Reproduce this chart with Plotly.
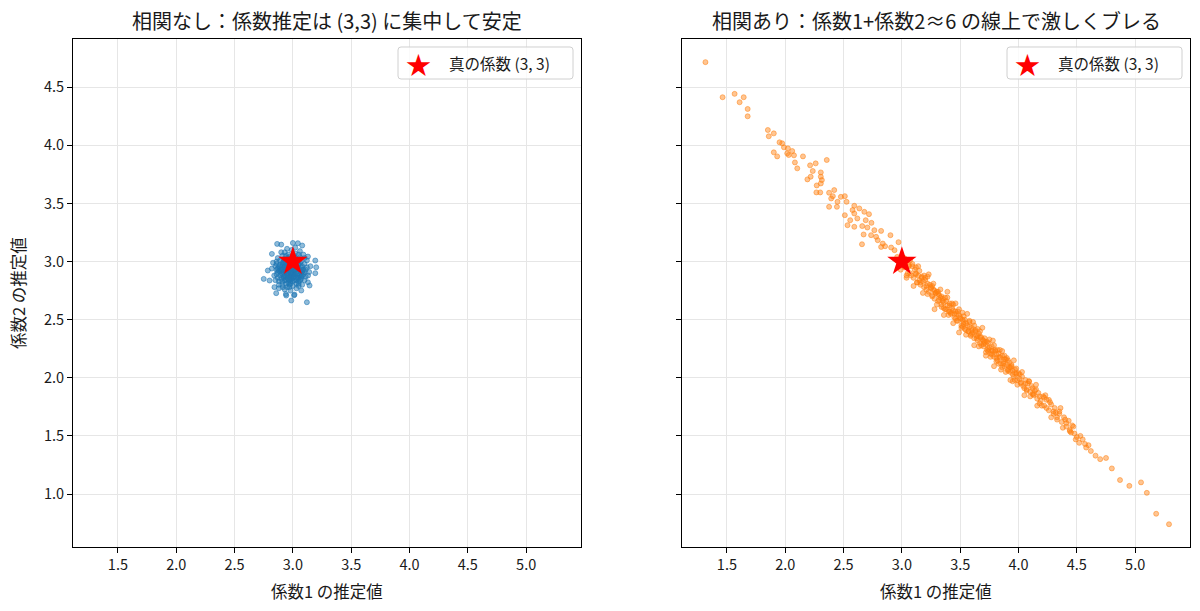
import re
import plotly.graph_objects as go

# ---------------- data ----------------
left_x = [2.865, 2.90, 3.00, 3.043, 3.08, 2.82, 3.129, 3.192, 3.20, 3.192, 2.785, 2.75, 2.80, 3.129, 3.143,
          2.842, 3.072, 2.857, 2.943, 3.014, 2.986, 3.12, 2.914,
          2.95, 2.98, 3.02, 2.93, 3.05, 2.97, 2.91, 3.08, 2.99, 3.03, 2.88, 2.94, 3.06, 2.90, 3.01, 2.96, 3.10,
          2.87, 3.04, 2.92, 2.99, 3.07, 2.95, 3.00, 2.89, 3.11, 2.93, 3.02, 2.86, 2.98, 3.05, 2.96, 3.09, 2.91,
          3.03, 2.94, 2.85, 3.13, 2.97, 3.01, 2.92, 3.06, 2.88, 3.00, 2.95, 3.08, 2.83, 3.04, 2.97, 2.90, 3.12,
          2.99, 2.93, 3.07, 2.96, 2.87, 3.02, 2.94, 3.10, 2.98, 2.91, 3.05, 2.89, 3.01, 2.84, 3.15, 2.95, 3.03,
          2.92, 3.06, 2.98, 2.86, 3.09, 2.93, 3.00, 3.04, 2.90, 2.97, 3.11, 2.88, 3.02, 2.94, 3.07, 2.96, 2.82,
          3.14, 2.99, 2.91, 3.05, 2.95, 3.01, 2.87, 3.08, 2.93, 3.03, 2.97, 2.89, 3.10, 2.98, 3.04, 2.92, 2.85,
          3.06, 2.96, 3.00, 2.94, 3.12, 2.90, 3.02, 2.99, 2.88, 3.07, 2.95, 3.03, 2.91, 2.97, 3.09, 3.01, 2.86,
          3.05, 2.93, 2.98,
          2.97, 3.01, 2.94, 3.04, 2.99, 2.92, 3.06, 2.96, 3.02, 2.90, 3.00, 2.95, 3.08, 2.93, 3.03, 2.98, 2.87,
          3.05, 2.99, 3.01, 2.94, 3.07, 2.96, 2.91, 3.04, 2.98, 3.00, 2.92, 3.06, 2.97, 3.02, 2.89, 3.10, 2.95,
          3.01, 2.93, 3.05, 2.99, 2.86, 3.03, 2.97, 2.94, 3.08, 3.00, 2.91, 3.04, 2.96, 3.02, 2.98, 2.88]
left_y = [3.152, 3.146, 3.16, 3.158, 3.138, 3.066, 3.043, 3.009, 2.951, 2.90, 2.923, 2.851, 2.837, 2.822, 2.794,
          2.78, 2.751, 2.728, 2.708, 2.716, 2.665, 2.65, 2.78,
          2.95, 2.90, 2.93, 2.88, 2.97, 3.02, 2.99, 2.91, 2.85, 2.81, 2.92, 3.05, 3.04, 2.85, 3.00, 2.82, 2.98,
          3.03, 2.88, 2.94, 2.97, 2.85, 2.78, 2.90, 2.97, 2.93, 3.08, 3.07, 2.89, 2.75, 2.79, 3.00, 3.06, 2.83,
          2.96, 2.91, 2.96, 2.88, 2.87, 2.84, 3.02, 2.92, 2.80, 3.04, 2.86, 2.80, 2.99, 3.01, 2.93, 2.90, 3.01,
          3.10, 2.76, 2.95, 3.06, 2.86, 2.89, 2.99, 2.84, 2.81, 3.05, 2.86, 2.93, 2.95, 2.88, 2.96, 3.11, 2.77,
          2.87, 3.09, 2.99, 3.00, 2.89, 2.96, 2.79, 2.93, 3.08, 2.84, 2.87, 2.83, 3.03, 2.72, 3.00, 2.90, 2.94,
          2.91, 2.88, 2.97, 2.83, 3.03, 2.92, 2.91, 2.96, 2.84, 2.99, 2.78, 3.01, 3.03, 2.94, 2.86, 2.91, 2.84,
          2.88, 2.97, 2.86, 2.81, 2.95, 2.95, 3.12, 2.92, 2.77, 2.90, 2.93, 2.84, 2.80, 3.04, 2.93, 2.71, 2.98,
          3.06, 2.99, 2.83,
          2.95, 2.89, 2.93, 2.95, 3.01, 2.86, 2.99, 2.88, 2.97, 2.92, 2.83, 2.97, 2.93, 3.01, 2.91, 2.96, 2.94,
          2.81, 2.89, 3.05, 2.84, 2.87, 2.92, 2.89, 3.00, 2.86, 2.96, 2.99, 2.84, 2.80, 2.93, 2.88, 2.91, 2.90,
          2.87, 2.95, 2.98, 2.94, 2.93, 2.86, 2.99, 2.87, 2.88, 3.02, 2.93, 2.90, 2.85, 2.99, 2.91, 2.96]

right_x = [1.316, 1.463, 1.566, 1.644, 1.609, 1.678, 1.678, 1.851, 1.902, 1.859, 1.951, 1.974, 1.989, 2.023,
           2.06, 2.017, 2.03, 2.075, 1.902, 1.931, 2.152, 2.083, 2.103, 2.213, 2.261, 2.356, 2.236, 2.305, 2.218,
           2.19, 2.305, 2.314, 2.305, 2.27, 2.267, 2.30, 2.376, 2.42, 2.408, 2.394, 2.376, 2.443, 2.477, 2.511,
           2.526, 2.448, 2.592, 2.635, 2.577, 2.511, 2.592, 2.678, 2.718, 2.557, 2.618, 2.69, 2.739, 2.534, 2.592,
           2.66, 2.704, 2.764, 2.822, 2.672, 2.736, 2.779, 2.793, 2.658, 2.836, 2.902, 2.856, 2.908, 2.971, 2.937,
           2.822,
           2.96, 2.99, 3.02, 3.03, 3.05, 3.06, 3.08, 3.09, 3.10, 3.11, 3.12, 3.13, 3.14, 3.15, 3.16, 3.17, 3.18,
           3.19, 3.20, 3.21, 3.22, 3.23, 3.24, 3.25, 3.26, 3.27, 3.28, 3.29, 3.30, 3.31, 3.32, 3.33, 3.34, 3.35,
           3.36, 3.37, 3.38, 3.39, 3.40, 3.41, 3.42, 3.43, 3.44, 3.45, 3.46, 3.47, 3.48, 3.49, 3.50, 3.51, 3.52,
           3.53, 3.54, 3.55, 3.56, 3.57, 3.58, 3.59, 3.60, 3.61, 3.62, 3.63, 3.64, 3.65, 3.66, 3.67, 3.68, 3.69,
           3.70, 3.71, 3.72, 3.73, 3.74, 3.75, 3.76, 3.77, 3.78, 3.79, 3.80, 3.81, 3.82, 3.83, 3.84, 3.85, 3.86,
           3.87, 3.88, 3.89, 3.90, 3.91, 3.92, 3.93, 3.94, 3.95, 3.96, 3.97, 3.98, 3.99, 4.00, 4.02, 4.03, 4.04,
           4.06, 4.07, 4.08, 4.10, 4.11, 4.13, 4.14, 4.16, 4.17, 4.19, 4.21, 4.22, 4.24, 4.26, 4.28, 4.30, 4.31,
           4.33, 4.35, 4.37, 4.39, 4.41, 4.43, 4.45, 4.47, 4.50, 4.52, 4.55, 4.58, 4.62, 4.66, 4.70, 4.75, 4.80,
           4.87, 4.95, 5.05, 5.10, 5.18, 5.29,
           3.01, 3.04, 3.07, 3.12, 3.15, 3.19, 3.22, 3.26, 3.28, 3.31, 3.34, 3.36, 3.39, 3.41, 3.44, 3.46, 3.49,
           3.52, 3.53, 3.55, 3.58, 3.60, 3.62, 3.65, 3.67, 3.70, 3.72, 3.74, 3.77, 3.79, 3.81, 3.84, 3.86, 3.88,
           3.91, 3.93, 3.95, 3.98, 4.01, 4.05, 4.09, 4.12, 4.15, 4.18, 4.23, 4.27, 4.32, 4.36, 4.40, 4.44, 4.48,
           4.53, 4.57, 4.60,
           3.02, 3.04, 3.06, 3.07, 3.09, 3.10, 3.12, 3.13, 3.14, 3.16, 3.17, 3.18, 3.20, 3.21, 3.22, 3.23, 3.25,
           3.26, 3.27, 3.28, 3.29, 3.30, 3.31, 3.32, 3.33, 3.34, 3.35, 3.36, 3.37, 3.38, 3.39, 3.40, 3.41, 3.42,
           3.43, 3.44, 3.45, 3.46, 3.47, 3.48, 3.49, 3.50, 3.51, 3.52, 3.53, 3.54, 3.55, 3.56, 3.57, 3.58, 3.59,
           3.60, 3.61, 3.62, 3.63, 3.64, 3.65, 3.66, 3.67, 3.68, 3.69, 3.70, 3.71, 3.72, 3.73, 3.74, 3.75, 3.76,
           3.77, 3.78, 3.79, 3.80, 3.81, 3.82, 3.83, 3.84, 3.85, 3.86, 3.87, 3.88, 3.89, 3.90, 3.91, 3.92, 3.93,
           3.94, 3.95, 3.96, 3.97, 3.98, 3.99, 4.01, 4.02, 4.03, 4.05, 4.06, 4.07, 4.09, 4.10, 4.12, 4.13, 4.15,
           4.16, 4.18, 4.20, 4.22, 4.24, 4.26, 4.28, 4.30, 4.33, 4.35, 4.38, 4.41, 4.44, 4.46, 4.49]
right_y = [4.716, 4.414, 4.443, 4.414, 4.371, 4.313, 4.25, 4.132, 4.103, 4.078, 4.026, 4.017, 3.983, 3.974,
           3.951, 3.931, 3.917, 3.914, 3.940, 3.905, 3.905, 3.853, 3.802, 3.828, 3.845, 3.874, 3.779, 3.767, 3.730,
           3.707, 3.730, 3.701, 3.672, 3.655, 3.595, 3.595, 3.592, 3.615, 3.563, 3.543, 3.471, 3.471, 3.557, 3.563,
           3.514, 3.514, 3.480, 3.457, 3.443, 3.399, 3.414, 3.428, 3.408, 3.356, 3.371, 3.356, 3.333, 3.313, 3.299,
           3.305, 3.293, 3.270, 3.264, 3.233, 3.227, 3.213, 3.184, 3.149, 3.155, 3.227, 3.132, 3.121, 3.167, 3.098,
           3.126,
           3.04, 2.93, 2.95, 3.02, 2.90, 2.97, 2.88, 2.96, 2.86, 2.93, 2.90, 2.82, 2.88, 2.92, 2.80, 2.86, 2.83,
           2.78, 2.84, 2.76, 2.81, 2.74, 2.80, 2.77, 2.71, 2.76, 2.68, 2.73, 2.74, 2.66, 2.71, 2.69, 2.63, 2.68,
           2.65, 2.59, 2.66, 2.62, 2.57, 2.64, 2.55, 2.60, 2.58, 2.52, 2.57, 2.55, 2.49, 2.54, 2.51, 2.45, 2.50,
           2.48, 2.42, 2.47, 2.45, 2.40, 2.44, 2.37, 2.43, 2.39, 2.34, 2.41, 2.36, 2.32, 2.38, 2.30, 2.35, 2.33,
           2.27, 2.31, 2.29, 2.24, 2.30, 2.26, 2.21, 2.27, 2.23, 2.18, 2.24, 2.20, 2.15, 2.21, 2.17, 2.12, 2.19,
           2.14, 2.10, 2.16, 2.11, 2.07, 2.13, 2.05, 2.10, 2.06, 2.01, 2.07, 2.03, 1.98, 2.04, 1.96, 2.01, 1.93,
           1.98, 1.90, 1.95, 1.88, 1.93, 1.85, 1.89, 1.82, 1.87, 1.80, 1.84, 1.76, 1.81, 1.72, 1.77, 1.69, 1.74,
           1.66, 1.71, 1.62, 1.66, 1.58, 1.63, 1.53, 1.58, 1.49, 1.44, 1.47, 1.40, 1.37, 1.33, 1.30, 1.31, 1.22,
           1.12, 1.07, 1.10, 1.01, 0.83, 0.74,
           2.99, 2.86, 3.01, 2.95, 2.84, 2.88, 2.87, 2.79, 2.75, 2.72, 2.70, 2.60, 2.69, 2.57, 2.63, 2.51, 2.59,
           2.44, 2.53, 2.41, 2.49, 2.38, 2.45, 2.36, 2.40, 2.32, 2.22, 2.25, 2.20, 2.28, 2.14, 2.24, 2.09, 2.19,
           2.15, 2.09, 1.97, 2.08, 1.99, 1.91, 1.97, 1.86, 1.90, 1.78, 1.85, 1.79, 1.70, 1.74, 1.64, 1.55, 1.52,
           1.50, 1.43, 1.42,
           3.03, 2.88, 2.96, 2.90, 2.98, 2.79, 2.89, 2.82, 2.96, 2.82, 2.87, 2.73, 2.86, 2.79, 2.72, 2.89, 2.78,
           2.70, 2.81, 2.59, 2.73, 2.63, 2.74, 2.67, 2.76, 2.61, 2.66, 2.54, 2.69, 2.59, 2.74, 2.54, 2.62, 2.56,
           2.64, 2.47, 2.55, 2.64, 2.49, 2.57, 2.39, 2.52, 2.43, 2.56, 2.46, 2.50, 2.37, 2.55, 2.40, 2.48, 2.36,
           2.41, 2.48, 2.28, 2.40, 2.34, 2.42, 2.27, 2.35, 2.28, 2.43, 2.29, 2.34, 2.19, 2.31, 2.23, 2.33, 2.18,
           2.23, 2.32, 2.10, 2.23, 2.17, 2.24, 2.12, 2.18, 2.07, 2.23, 2.12, 2.16, 2.05, 2.17, 2.06, 2.09, 1.98,
           2.11, 2.03, 2.15, 1.98, 2.04, 1.94, 2.03, 1.95, 2.05, 1.85, 1.95, 1.89, 1.97, 1.84, 1.91, 1.86, 1.94,
           1.76, 1.84, 1.76, 1.83, 1.74, 1.81, 1.66, 1.71, 1.64, 1.69, 1.57, 1.61, 1.54, 1.59, 1.47]

true_coef = [3, 3]
x_ticks = [1.5, 2.0, 2.5, 3.0, 3.5, 4.0, 4.5, 5.0]
y_ticks = [1.0, 1.5, 2.0, 2.5, 3.0, 3.5, 4.0, 4.5]
x_range = [1.115, 5.47]
y_range = [0.544, 4.915]

titles = ["相関なし：係数推定は (3,3) に集中して安定", "相関あり：係数1+係数2≈6 の線上で激しくブレる"]
xlabel = "係数1 の推定値"
ylabel = "係数2 の推定値"
legend_label = "真の係数 (3, 3)"

FONT = "Noto Sans CJK JP"
W, H = 1200, 611

fig = go.Figure()
fig.add_trace(go.Scatter(x=left_x, y=left_y, mode="markers", xaxis="x", yaxis="y", showlegend=False,
                         marker=dict(size=5, color="rgba(31,119,180,0.5)",
                                     line=dict(color="rgba(31,119,180,0.55)", width=1))))
fig.add_trace(go.Scatter(x=[true_coef[0]], y=[true_coef[1]], mode="markers", xaxis="x", yaxis="y",
                         showlegend=False, marker=dict(symbol="star", size=22, color="red", line=dict(width=0))))
fig.add_trace(go.Scatter(x=right_x, y=right_y, mode="markers", xaxis="x2", yaxis="y2", showlegend=False,
                         marker=dict(size=5, color="rgba(255,127,14,0.45)",
                                     line=dict(color="rgba(255,127,14,0.5)", width=1))))
fig.add_trace(go.Scatter(x=[true_coef[0]], y=[true_coef[1]], mode="markers", xaxis="x2", yaxis="y2",
                         showlegend=False, marker=dict(symbol="star", size=22, color="red", line=dict(width=0))))

dom_y = [1 - 547 / H, 1 - 39 / H]
dom_x1 = [73 / W, 581 / W]
dom_x2 = [682 / W, 1190 / W]

axis_common = dict(showline=True, mirror=True, linecolor="black", linewidth=1, ticks="outside",
                   ticklen=5, tickwidth=1, tickcolor="black", showgrid=True, gridcolor="#e6e6e6",
                   gridwidth=1, zeroline=False, tickfont=dict(size=14.5, color="#1a1a1a"))
xt = dict(tickmode="array", tickvals=x_ticks, ticktext=[f"{v:.1f}" for v in x_ticks], range=x_range)
yt = dict(tickmode="array", tickvals=y_ticks, ticktext=[f"{v:.1f}" for v in y_ticks], range=y_range)

fig.update_layout(
    width=W, height=H, margin=dict(l=0, r=0, t=0, b=0),
    paper_bgcolor="white", plot_bgcolor="white",
    font=dict(family=FONT, color="#1a1a1a"),
    xaxis=dict(domain=dom_x1, anchor="y", **xt, **axis_common),
    yaxis=dict(domain=dom_y, anchor="x", **yt, **axis_common),
    xaxis2=dict(domain=dom_x2, anchor="y2", **xt, **axis_common),
    yaxis2=dict(domain=dom_y, anchor="x2", showticklabels=False, **yt, **axis_common),
)


def conv(m):
    px, py = float(m.group(1)), float(m.group(2))
    return f"{px / W:.5f},{1 - py / H:.5f}"


ann = []
shapes = []
for i, (x0, x1) in enumerate([dom_x1, dom_x2]):
    cx = (x0 + x1) / 2
    ann.append(dict(text=titles[i], x=cx, y=1 - 20 / H, xref="paper", yref="paper", showarrow=False,
                    xanchor="center", yanchor="middle", font=dict(size=20)))
    ann.append(dict(text=xlabel, x=cx, y=1 - 591 / H, xref="paper", yref="paper", showarrow=False,
                    xanchor="center", yanchor="middle", font=dict(size=16.5)))
    # manual legend box
    off = 0 if i == 0 else 609
    lx0, lx1, ly0, ly1 = 398 + off, 573 + off, 47, 79
    r = 3
    path = (f"M {lx0 + r},{ly0} L {lx1 - r},{ly0} Q {lx1},{ly0} {lx1},{ly0 + r} "
            f"L {lx1},{ly1 - r} Q {lx1},{ly1} {lx1 - r},{ly1} L {lx0 + r},{ly1} "
            f"Q {lx0},{ly1} {lx0},{ly1 - r} L {lx0},{ly0 + r} Q {lx0},{ly0} {lx0 + r},{ly0} Z")
    path = re.sub(r"([\d.]+),([\d.]+)", conv, path)
    shapes.append(dict(type="path", path=path, xref="paper", yref="paper",
                       line=dict(color="#d0d0d0", width=1), fillcolor="rgba(255,255,255,0.8)", layer="above"))
    ann.append(dict(text="★", x=(418 + off) / W, y=1 - 63 / H, xref="paper", yref="paper", showarrow=False,
                    xanchor="center", yanchor="middle", font=dict(size=25, color="red")))
    ann.append(dict(text=legend_label, x=(447 + off) / W, y=1 - 63 / H, xref="paper", yref="paper",
                    showarrow=False, xanchor="left", yanchor="middle", font=dict(size=15.5)))

ann.append(dict(text=ylabel, x=18 / W, y=(dom_y[0] + dom_y[1]) / 2, xref="paper", yref="paper",
                showarrow=False, textangle=-90, xanchor="center", yanchor="middle", font=dict(size=16.5)))

fig.update_layout(annotations=ann, shapes=shapes)
fig.write_html("out.html")
